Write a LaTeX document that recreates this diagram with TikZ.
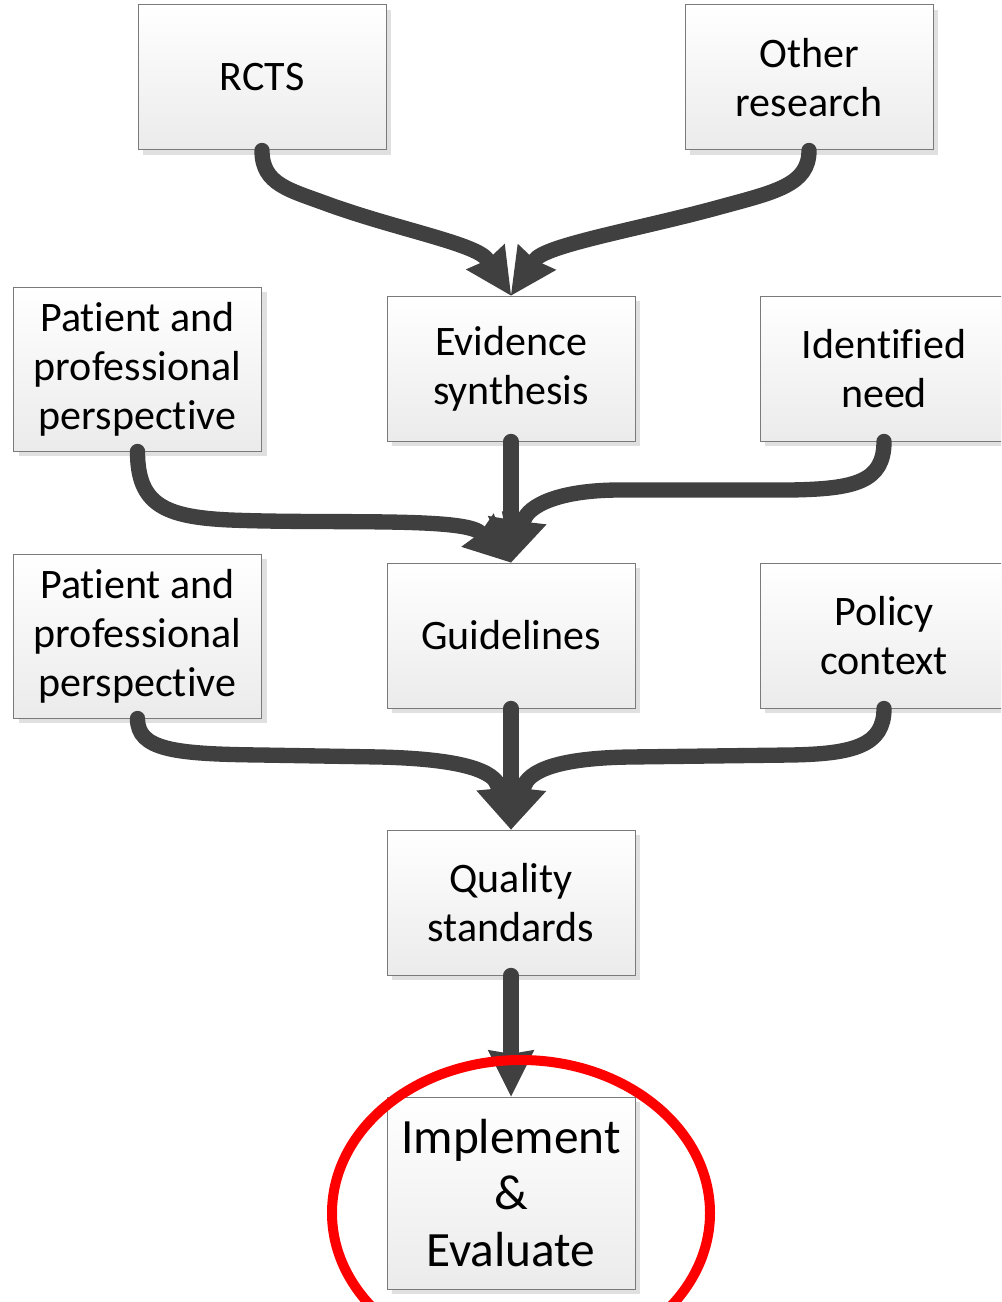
\documentclass[tikz,border=0pt]{standalone}
\usepackage{fontspec}
\setmainfont{Carlito}[Ligatures=NoCommon]
\usetikzlibrary{arrows.meta}
\definecolor{arrowc}{HTML}{404040}
\definecolor{boxline}{HTML}{7A7A7A}
\definecolor{shadowc}{HTML}{E0E0E0}
\definecolor{boxbot}{HTML}{EBEBEB}
\definecolor{ringred}{HTML}{FF0000}
\begin{document}
\begin{tikzpicture}[x=0.75pt, y=-0.75pt,
  box/.style={draw=boxline, line width=0.75pt, top color=white, bottom color=boxbot,
    align=center, inner sep=0pt, minimum width=186pt, minimum height=108.75pt,
    font=\fontsize{31.5}{36.75}\selectfont,
    preaction={fill=shadowc, transform canvas={xshift=3.75pt, yshift=-3.75pt}}},
  tallbox/.style={box, minimum height=123pt},
  bigbox/.style={box, minimum height=144pt, font=\fontsize{37}{42.5}\selectfont},
  conn/.style={draw=arrowc, line width=11.5pt, line cap=round,
    -{Stealth[length=35pt, width=35pt, inset=3pt, line width=0pt]}},
  ring/.style={draw=ringred, line width=7.5pt}
]
\useasboundingbox (0,0) rectangle (1001,1302);
\clip (0,0) rectangle (1001,1302);

% boxes
\node[box] (rcts) at (262,77.5) {RCTS};
\node[box] (other) at (809,77.5) {Other\\research};
\node[tallbox] (pp1) at (137.5,369) {Patient and\\professional\\perspective};
\node[box] (evid) at (511,368.5) {Evidence\\synthesis};
\node[box] (need) at (884,368.5) {Identified\\need};
\node[tallbox] (pp2) at (137.5,636) {Patient and\\professional\\perspective};
\node[box] (guide) at (511,635.5) {Guidelines};
\node[box] (policy) at (884,635.5) {Policy\\context};
\node[box] (qual) at (511,902.5) {Quality\\standards};
\node[bigbox] (impl) at (511,1193) {Implement\\\&\\Evaluate};

% connectors
\draw[conn] (rcts.south) .. controls (262,185) and (290,190) .. (330,205)
  .. controls (400,230) and (477,244) .. (evid.north);
\draw[conn] (other.south) .. controls (809,185) and (775,192) .. (720,207)
  .. controls (640,229) and (545,245) .. (evid.north);
\draw[conn] (evid.south) -- (guide.north);
\draw[conn] (pp1.south) .. controls (137.5,505) and (165,517) .. (230,520)
  .. controls (330,524) and (464,517) .. (guide.north);
\draw[conn] (need.south) .. controls (884,482) and (855,489) .. (790,490) -- (620,490)
  .. controls (560,490) and (528,505) .. (guide.north);
\draw[conn] (pp2.south) .. controls (137.5,750) and (175,754) .. (260,755) -- (380,757)
  .. controls (460,759) and (495,770) .. (qual.north);
\draw[conn] (guide.south) -- (qual.north);
\draw[conn] (policy.south) .. controls (884,745) and (855,754) .. (790,755) -- (630,757)
  .. controls (560,758) and (528,770) .. (qual.north);
\draw[conn] (qual.south) -- (impl.north);

% red ring
\draw[ring] (521,1213) ellipse [x radius=189, y radius=153];
\end{tikzpicture}
\end{document}
